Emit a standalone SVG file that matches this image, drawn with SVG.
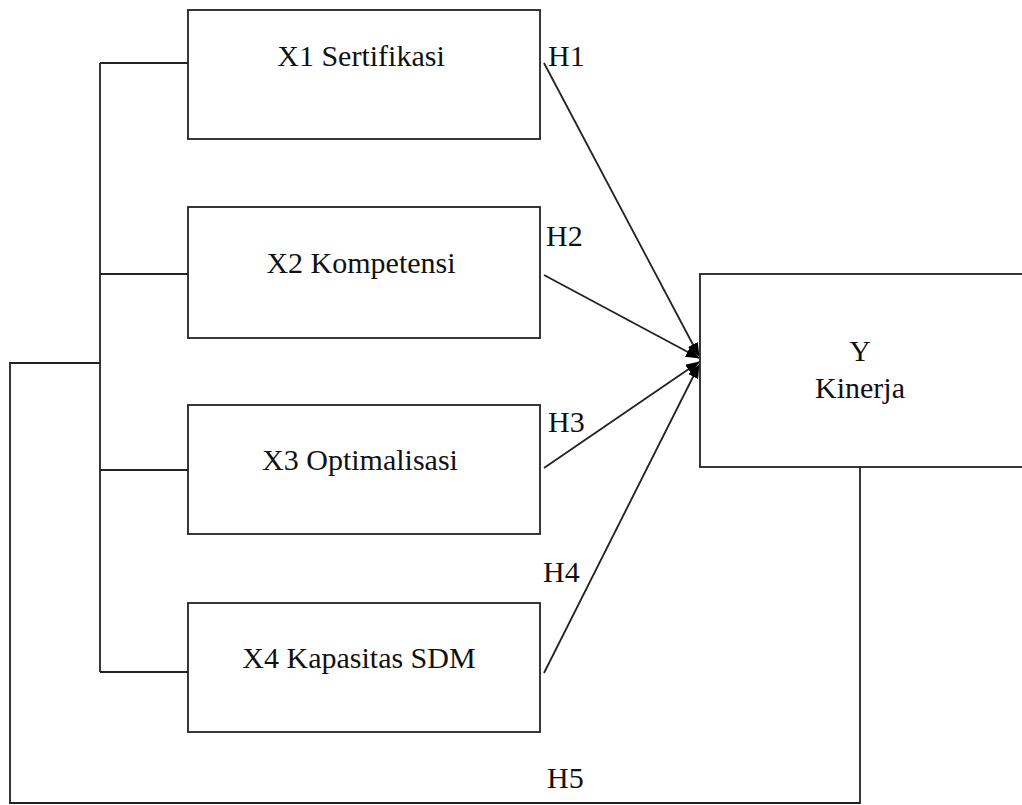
<svg xmlns="http://www.w3.org/2000/svg" width="1022" height="805" viewBox="0 0 1022 805">
<style>
.box{fill:#fff;stroke:#222;stroke-width:1.8}
.ln{fill:none;stroke:#222;stroke-width:1.8}
.ar{fill:none;stroke:#222;stroke-width:1.8;marker-end:url(#ah)}
text{font-family:"Liberation Serif","Times New Roman",serif;font-size:30px;fill:#111}
.c{text-anchor:middle}
</style>
<defs>
<marker id="ah" markerWidth="14" markerHeight="11" refX="13" refY="5.5" orient="auto" markerUnits="userSpaceOnUse">
<path d="M0,0 L14,5.5 L0,11 Z" fill="#000"/>
</marker>
</defs>
<rect width="1022" height="805" fill="#fff"/>
<g id="connectors">
<path class="ln" d="M100,63 V672 M100,63 H188 M100,274 H188 M100,470 H188 M100,672 H188"/>
<path class="ln" d="M100,363 H10 V803 H860 V467"/>
<line class="ar" x1="544" y1="63" x2="699" y2="356"/>
<line class="ar" x1="544" y1="275" x2="699" y2="358"/>
<line class="ar" x1="544" y1="468" x2="699" y2="362"/>
<line class="ar" x1="544" y1="673" x2="699" y2="365"/>
<text x="548" y="66">H1</text>
<text x="546" y="246">H2</text>
<text x="548" y="432">H3</text>
<text x="543" y="582">H4</text>
<text x="547" y="788">H5</text>
</g>
<g id="x1">
<rect class="box" x="188" y="10" width="352" height="129"/>
<text class="c" x="361" y="66">X1 Sertifikasi</text>
</g>
<g id="x2">
<rect class="box" x="188" y="207" width="352" height="131"/>
<text class="c" x="361" y="273">X2 Kompetensi</text>
</g>
<g id="x3">
<rect class="box" x="188" y="405" width="352" height="129"/>
<text class="c" x="360" y="470">X3 Optimalisasi</text>
</g>
<g id="x4">
<rect class="box" x="188" y="603" width="352" height="129"/>
<text class="c" x="359" y="668">X4 Kapasitas SDM</text>
</g>
<g id="y">
<rect class="box" x="700" y="274" width="340" height="193"/>
<text class="c" x="860" y="361">Y</text>
<text class="c" x="860" y="398">Kinerja</text>
</g>
</svg>
